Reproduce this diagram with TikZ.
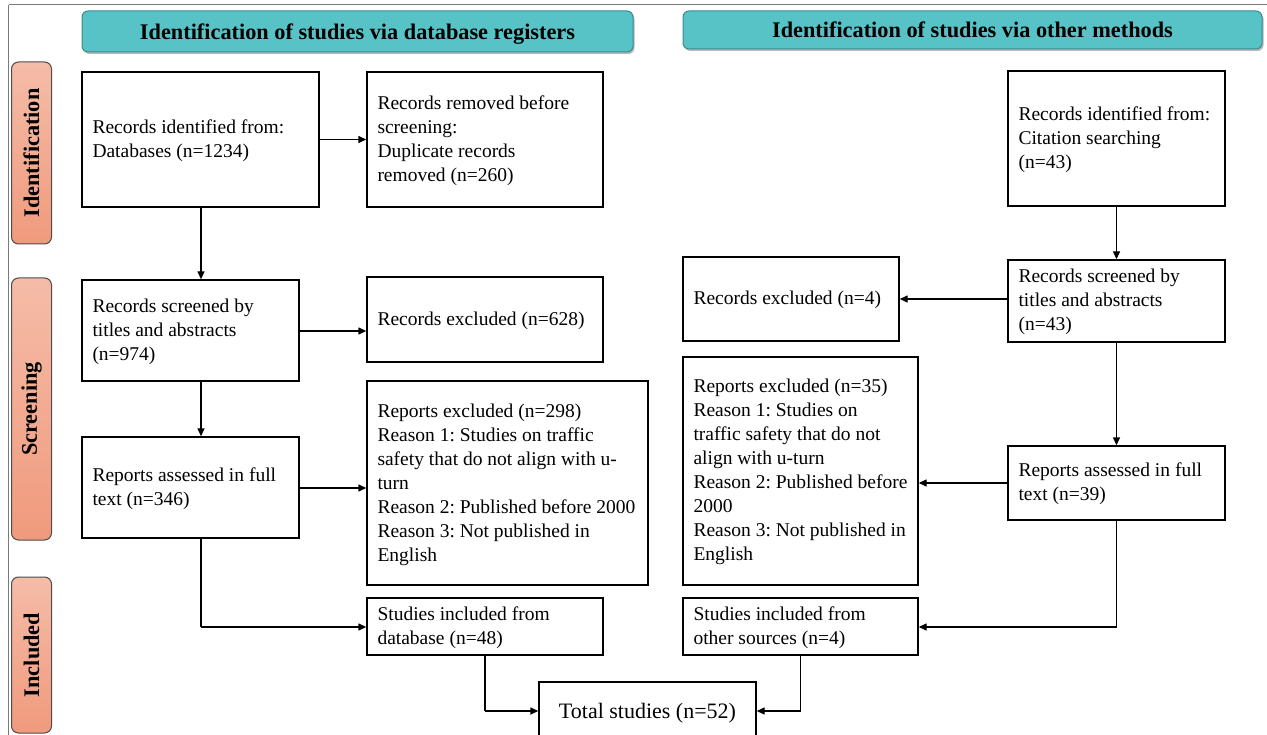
\documentclass[tikz,border=0pt]{standalone}
\usepackage{fontspec}
\setmainfont{Liberation Serif}
\usetikzlibrary{arrows.meta,shadows}
\definecolor{teal1}{HTML}{57C3C6}
\definecolor{teal2}{HTML}{3B8A93}
\definecolor{salmonT}{HTML}{F5BCA8}
\definecolor{salmonB}{HTML}{F09A7D}
\definecolor{frame}{HTML}{7A7A7A}
\frenchspacing
\begin{document}
\begin{tikzpicture}[x=1pt,y=-1pt,
  box/.style={draw=black, line width=1.4pt, inner sep=0pt, anchor=center},
  txt/.style={align=left, inner sep=0pt, anchor=west, font=\fontsize{19.5}{24}\selectfont},
  hdr/.style={draw=teal2, line width=1pt, fill=teal1, rounded corners=6pt, anchor=center,
    font=\bfseries\fontsize{22.3}{26}\selectfont, inner sep=0pt,
    drop shadow={shadow xshift=1.5pt, shadow yshift=-2pt, fill=black!55}},
  side/.style={draw=black!70, line width=1pt, rounded corners=7pt, top color=salmonT, bottom color=salmonB,
    anchor=center, inner sep=0pt, minimum width=40pt},
  sidetxt/.style={rotate=90, font=\bfseries\fontsize{22.3}{26}\selectfont, anchor=center},
  arr/.style={line width=1.4pt, -{Triangle[length=8pt,width=7pt]}},
  ln/.style={line width=1.4pt}
]
\clip (0,0) rectangle (1267,735);
\fill[white] (0,0) rectangle (1267,735);
% frame lines
\draw[frame, line width=1pt] (8.5,5) -- (1267,5);
\draw[frame, line width=1pt] (8.5,5) -- (8.5,735);

% headers
\node[hdr, minimum width=551pt, minimum height=41pt] (h1) at (357.5,31.5) {};
\node[font=\bfseries\fontsize{22.3}{26}\selectfont, inner sep=0pt, anchor=base] (h1t) at (357.5,40) {Identification of studies via database registers};
\node[hdr, minimum width=579pt, minimum height=38pt] (h2) at (972.5,30) {};
\node[font=\bfseries\fontsize{22.3}{26}\selectfont, inner sep=0pt, anchor=base] (h2t) at (972.5,38) {Identification of studies via other methods};

% side labels
\node[side, minimum height=182pt] (s1) at (31.5,153) {};
\node[sidetxt] (s1t) at (s1) {Identification};
\node[side, minimum height=262pt] (s2) at (31.5,409) {};
\node[sidetxt] (s2t) at (s2) {Screening};
\node[side, minimum height=156pt] (s3) at (31.5,655) {};
\node[sidetxt] (s3t) at (s3) {Included};

% boxes
\node[box, minimum width=237pt, minimum height=135pt] (A) at (200.5,139.5) {};
\node[txt] (At) at ([xshift=11pt,yshift=-1.5pt]A.west) {Records identified from:\\Databases (n=1234)};
\node[box, minimum width=236pt, minimum height=135pt] (B) at (485,139.5) {};
\node[txt] (Bt) at ([xshift=11pt,yshift=-1.5pt]B.west) {Records removed before\\screening:\\Duplicate records\\removed (n=260)};
\node[box, minimum width=217pt, minimum height=135pt] (C) at (1116.5,138.5) {};
\node[txt] (Ct) at ([xshift=11pt,yshift=-1pt]C.west) {Records identified from:\\Citation searching\\(n=43)};
\node[box, minimum width=217pt, minimum height=101pt] (D) at (190.5,330.5) {};
\node[txt] (Dt) at ([xshift=11pt,yshift=-1pt]D.west) {Records screened by\\titles and abstracts\\(n=974)};
\node[box, minimum width=236pt, minimum height=85pt] (E) at (485,319.5) {};
\node[txt] (Et) at ([xshift=11pt,yshift=-1pt]E.west) {Records excluded (n=628)};
\node[box, minimum width=216pt, minimum height=84pt] (F) at (791,299) {};
\node[txt] (Ft) at ([xshift=11pt,yshift=-1pt]F.west) {Records excluded (n=4)};
\node[box, minimum width=217pt, minimum height=82pt] (G) at (1116.5,301) {};
\node[txt] (Gt) at ([xshift=11pt,yshift=-1pt]G.west) {Records screened by\\titles and abstracts\\(n=43)};
\node[box, minimum width=217pt, minimum height=101pt] (H) at (190.5,487.5) {};
\node[txt] (Ht) at ([xshift=11pt,yshift=-1pt]H.west) {Reports assessed in full\\text (n=346)};
\node[box, minimum width=281pt, minimum height=204pt] (I) at (507.5,483) {};
\node[txt] (It) at ([xshift=11pt,yshift=-2pt]I.west) {Reports excluded (n=298)\\Reason 1: Studies on traffic\\safety that do not align with u-\\turn\\Reason 2: Published before 2000\\Reason 3: Not published in\\English};
\node[box, minimum width=235pt, minimum height=228pt] (J) at (800.5,471) {};
\node[txt] (Jt) at ([xshift=11pt,yshift=-1pt]J.west) {Reports excluded (n=35)\\Reason 1: Studies on\\traffic safety that do not\\align with u-turn\\Reason 2: Published before\\2000\\Reason 3: Not published in\\English};
\node[box, minimum width=217pt, minimum height=74pt] (K) at (1116.5,483) {};
\node[txt] (Kt) at ([xshift=11pt,yshift=-1pt]K.west) {Reports assessed in full\\text (n=39)};
\node[box, minimum width=236pt, minimum height=57pt] (L) at (485,626.5) {};
\node[txt] (Lt) at ([xshift=11pt,yshift=-1pt]L.west) {Studies included from\\database (n=48)};
\node[box, minimum width=235pt, minimum height=57pt] (M) at (800.5,626.5) {};
\node[txt] (Mt) at ([xshift=11pt,yshift=-1pt]M.west) {Studies included from\\other sources (n=4)};
\node[box, minimum width=217pt, minimum height=60pt] (N) at (647.5,712) {};
\node[txt, anchor=center, font=\fontsize{22}{26}\selectfont] (Nt) at ([yshift=-1pt]N.center) {Total studies (n=52)};

% connectors
\coordinate (cx) at (201,0);
\draw[arr] (cx |- A.south) -- (cx |- D.north);
\draw[arr] (A.east) -- (A.east -| B.west);
\draw[arr] (cx |- D.south) -- (cx |- H.north);
\coordinate (d1) at (299,331);
\draw[arr] (d1) -- (d1 -| E.west);
\coordinate (h1r) at (299,488);
\draw[arr] (h1r) -- (h1r -| I.west);
\coordinate (hb) at (201,627);
\draw[ln] (cx |- H.south) -- (hb);
\draw[arr] (hb) -- (hb -| L.west);
\draw[arr] (C.south) -- (C.south |- G.north);
\coordinate (g1) at (1008,299);
\draw[arr] (g1) -- (g1 -| F.east);
\draw[arr] (G.south) -- (G.south |- K.north);
\draw[arr] (K.west) -- (K.west -| J.east);
\coordinate (kb) at (1116.5,627);
\draw[ln] (K.south) -- (kb);
\draw[arr] (kb) -- (kb -| M.east);
\coordinate (lb) at (485,711);
\draw[ln] (L.south) -- (lb);
\draw[arr] (lb) -- (lb -| N.west);
\coordinate (mb) at (800.5,711);
\draw[ln] (M.south) -- (mb);
\draw[arr] (mb) -- (mb -| N.east);
\end{tikzpicture}
\end{document}
